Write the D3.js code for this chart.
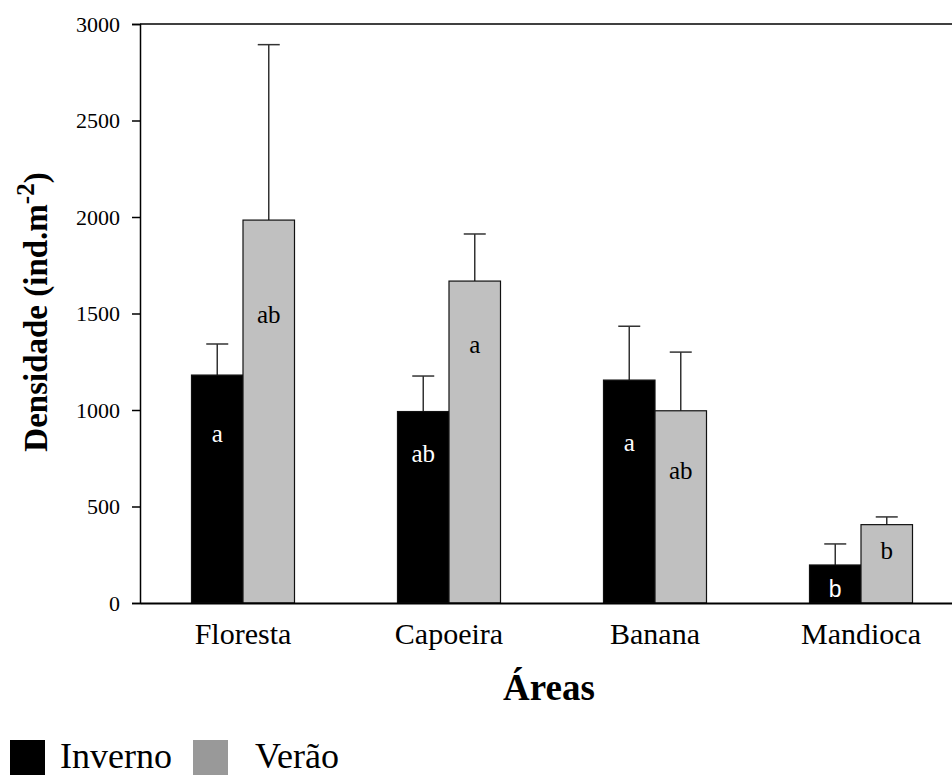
<!DOCTYPE html>
<html>
<head>
<meta charset="utf-8">
<script src="https://cdn.jsdelivr.net/npm/d3@7"></script>
<style>
  body { margin: 0; background: #fff; }
  svg { display: block; }
  svg text { font-family: "Times New Roman", "Liberation Serif", Times, serif; }
  svg text.sans { font-family: "Liberation Sans", Arial, sans-serif; }
</style>
</head>
<body>
<svg id="chart" width="952" height="775"></svg>
<script>
// data
const areas = ["Floresta", "Capoeira", "Banana", "Mandioca"];
const seasons = ["Inverno", "Verão"];
const inverno = [1181, 992, 1155, 197];
const invernoErr = [161, 184, 279, 109];
const verao = [1984, 1668, 996, 406];
const veraoErr = [909, 244, 304, 40];
// significance letters and the height (in data units) where each sits
const invernoLetters = ["a", "ab", "a", "b"];
const veraoLetters = ["ab", "a", "ab", "b"];
const invernoLetterAt = [835, 730, 790, 30];
const veraoLetterAt = [1450, 1295, 640, 230];
const yTicks = [0, 500, 1000, 1500, 2000, 2500, 3000];

const svg = d3.select("#chart");
const plot = {left: 140, right: 964, top: 24, bottom: 603};

const x = d3.scaleBand().domain(areas).range([plot.left, plot.right])
    .paddingInner(0.5).paddingOuter(0.25);
const xs = d3.scaleBand().domain(seasons).range([0, x.bandwidth()]);
const y = d3.scaleLinear().domain([0, 3000]).range([plot.bottom, plot.top]);

const fill = {"Inverno": "#000000", "Verão": "#c0c0c0"};

const rows = [];
areas.forEach((a, i) => {
    rows.push({area: a, season: "Inverno", v: inverno[i], e: invernoErr[i], l: invernoLetters[i], lAt: invernoLetterAt[i]});
    rows.push({area: a, season: "Verão", v: verao[i], e: veraoErr[i], l: veraoLetters[i], lAt: veraoLetterAt[i]});
});

// error bars (upper only)
const eb = svg.append("g").selectAll("g").data(rows).join("g")
    .attr("transform", d => `translate(${x(d.area) + xs(d.season) + xs.bandwidth() / 2},0)`);
eb.append("line")
    .attr("y1", d => y(d.v)).attr("y2", d => y(d.v + d.e))
    .attr("stroke", "#333").attr("stroke-width", 1.5);
eb.append("line")
    .attr("x1", -11).attr("x2", 11)
    .attr("y1", d => y(d.v + d.e)).attr("y2", d => y(d.v + d.e))
    .attr("stroke", "#333").attr("stroke-width", 1.5);

// bars
svg.append("g").selectAll("rect").data(rows).join("rect")
    .attr("x", d => x(d.area) + xs(d.season))
    .attr("y", d => y(d.v))
    .attr("width", xs.bandwidth())
    .attr("height", d => y(0) - y(d.v))
    .attr("fill", d => fill[d.season])
    .attr("stroke", "#111").attr("stroke-width", 1.2);

// letters
svg.append("g").selectAll("text").data(rows).join("text")
    .attr("class", d => d.area === "Mandioca" && d.season === "Inverno" ? "sans" : null)
    .attr("x", d => x(d.area) + xs(d.season) + xs.bandwidth() / 2)
    .attr("y", d => y(d.lAt))
    .attr("text-anchor", "middle")
    .attr("font-size", d => d.area === "Mandioca" && d.season === "Inverno" ? 23 : 25)
    .attr("fill", d => d.season === "Inverno" ? "#fff" : "#000")
    .text(d => d.l);

// axes
const yAxis = d3.axisLeft(y).tickValues(yTicks).tickSize(8).tickPadding(12).tickFormat(d3.format("d"));
svg.append("g")
    .attr("transform", `translate(${plot.left},0)`)
    .call(yAxis)
    .attr("font-family", null)
    .call(g => g.select(".domain").attr("stroke-width", 1.5))
    .call(g => g.selectAll(".tick line").attr("stroke-width", 1.5))
    .call(g => g.selectAll("text").attr("font-size", 22).attr("fill", "#000"));

svg.append("line").attr("x1", plot.left).attr("x2", plot.right).attr("y1", plot.top).attr("y2", plot.top)
    .attr("stroke", "#000").attr("stroke-width", 1.5);

const xAxis = d3.axisBottom(x).tickSize(0).tickPadding(20);
svg.append("g")
    .attr("transform", `translate(0,${plot.bottom})`)
    .call(xAxis)
    .attr("font-family", null)
    .call(g => g.select(".domain").attr("stroke-width", 2))
    .call(g => g.selectAll("text").attr("font-size", 30).attr("fill", "#000"));

// axis titles
const yt = svg.append("text")
    .attr("transform", `translate(47,312) rotate(-90)`)
    .attr("text-anchor", "middle")
    .attr("font-size", 33).attr("font-weight", "bold");
yt.append("tspan").text("Densidade (ind.m");
yt.append("tspan").attr("dy", -13).attr("font-size", 25).text("-2");
yt.append("tspan").attr("dy", 13).text(")");

svg.append("text")
    .attr("x", 549).attr("y", 700)
    .attr("text-anchor", "middle")
    .attr("font-size", 37).attr("font-weight", "bold")
    .text("Áreas");

// legend
const legendX = [10, 193];
const legendFill = ["#000000", "#999999"];
const lg = svg.append("g").selectAll("g").data(seasons).join("g")
    .attr("transform", (d, i) => `translate(${legendX[i]},740)`);
lg.append("rect").attr("width", 35).attr("height", 35).attr("fill", (d, i) => legendFill[i]);
lg.append("text")
    .attr("x", (d, i) => i === 0 ? 50 : 62).attr("y", 28)
    .attr("font-size", 36)
    .text(d => d);
</script>
</body>
</html>
